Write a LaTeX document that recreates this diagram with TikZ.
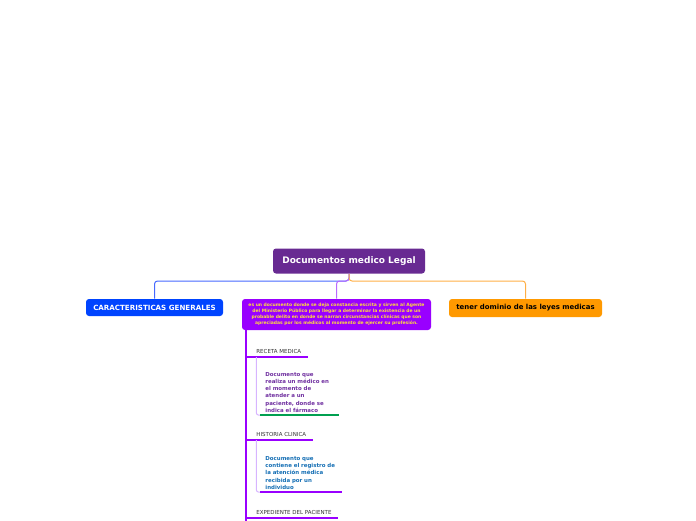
\documentclass[tikz,border=0pt]{standalone}
\usepackage{fontspec}
\setmainfont{DejaVu Sans}
\usetikzlibrary{positioning,calc}

\definecolor{rootc}{RGB}{104,42,146}
\definecolor{genc}{RGB}{0,68,255}
\definecolor{midc}{RGB}{153,0,255}
\definecolor{tenc}{RGB}{255,153,0}
\definecolor{genl}{RGB}{70,105,255}
\definecolor{midl}{RGB}{185,105,255}
\definecolor{tenl}{RGB}{255,175,70}
\definecolor{subl}{RGB}{215,180,255}
\definecolor{textyel}{RGB}{255,222,60}
\definecolor{descp}{RGB}{112,48,160}
\definecolor{descb}{RGB}{20,110,180}
\definecolor{greenl}{RGB}{0,160,80}

\begin{document}
\begin{tikzpicture}[x=1pt,y=-1pt,thick,
  every node/.style={font=\bfseries},
  box/.style={rounded corners=3pt,inner sep=0pt,align=center},
  branch/.style={line width=1pt,rounded corners=3pt},
  subtopic/.style={font=\fontsize{5.5}{6.5}\selectfont,text=black!80,inner xsep=6pt,inner ysep=3pt,anchor=south west},
  desc/.style={font=\bfseries\fontsize{5.45}{7.3}\selectfont,align=left,inner xsep=5pt,inner ysep=2pt,anchor=south west}]
\useasboundingbox (0,0) rectangle (696,520);

\node[box,fill=rootc,text=white,minimum width=152pt,minimum height=25pt,font=\bfseries\fontsize{9}{10}\selectfont] (root) at (349,261) {Documentos medico Legal};
\node[box,fill=genc,text=white,minimum width=137pt,minimum height=17pt,font=\bfseries\fontsize{7.1}{8}\selectfont] (gen) at (154.5,307.5) {CARACTERISTICAS GENERALES};
\node[box,fill=midc,text=textyel,minimum width=189pt,minimum height=31pt,font=\bfseries\fontsize{4.5}{6}\selectfont] (mid) at (336.5,314.5)
  {es un documento donde se deja constancia escrita y sirven al Agente\\
   del Ministerio Público para llegar a determinar la existencia de un\\
   probable delito en donde se narran circunstancias clínicas que son\\
   apreciadas por los médicos al momento de ejercer su profesión.};
\node[box,fill=tenc,text=black,minimum width=153pt,minimum height=18pt,font=\bfseries\fontsize{6.95}{8}\selectfont] (ten) at (525.5,308) {tener dominio de las leyes medicas};

\coordinate (hub) at (349,281);
\draw[branch,genl] (root.south) -- (hub) -| (gen.north);
\draw[branch,midl] (root.south) -- (hub) -| (mid.north);
\draw[branch,tenl] (root.south) -- (hub) -| (ten.north);

\coordinate (trunk) at (246,522);
\draw[midc,line width=2pt] (mid.south -| trunk) -- (trunk);

\foreach \name/\y/\txt in {rec/357/RECETA MEDICA,his/440/HISTORIA CLINICA,exp/518/EXPEDIENTE DEL PACIENTE}{
  \node[subtopic] (\name) at (250,\y) {\txt};
  \draw[midc,line width=2.4pt,rounded corners=2pt] (\name.south east) -- (\name.south west) -- (\name.south west -| trunk);
}

\node[desc,text=descp,text width=68pt] (recd) at (260,415)
  {Documento que\\ realiza un médico en\\ el momento de\\ atender a un\\ paciente, donde se\\ indica el fármaco};
\node[desc,text=descb,text width=71pt] (hisd) at (260,492)
  {Documento que\\ contiene el registro de\\ la atención médica\\ recibida por un\\ individuo};

\draw[subl,line width=1pt,rounded corners=2pt] (rec.south west -| rec.text) |- (recd.south west);
\draw[subl,line width=1pt,rounded corners=2pt] (his.south west -| his.text) |- (hisd.south west);
\draw[greenl,line width=2pt] (recd.south west) -- (recd.south east);
\draw[midc,line width=2pt] (hisd.south west) -- (hisd.south east);
\end{tikzpicture}
\end{document}
